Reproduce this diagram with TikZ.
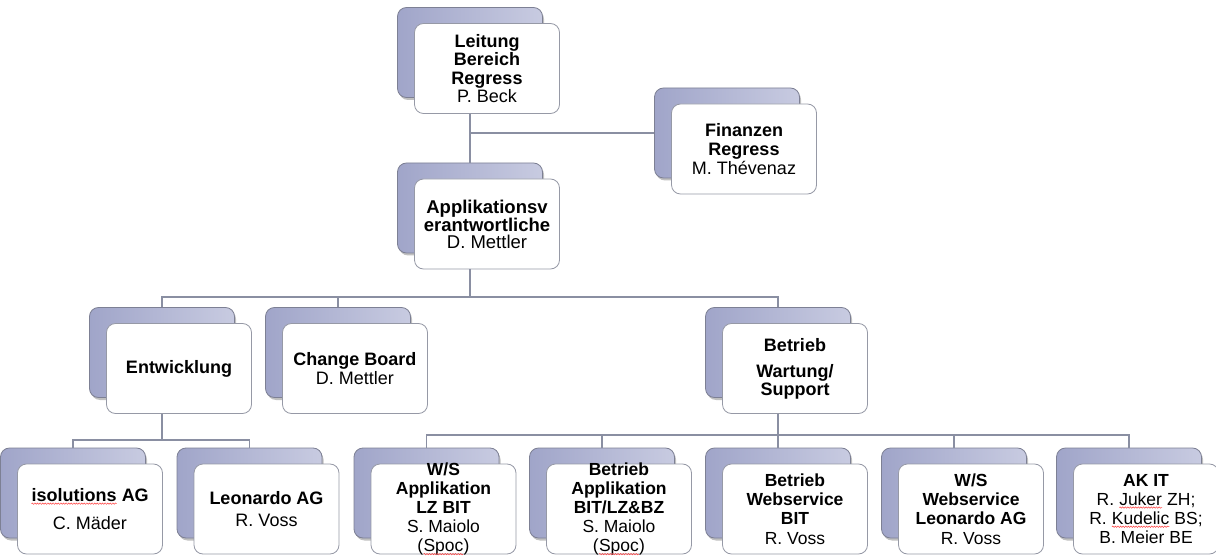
\documentclass[tikz,border=0pt]{standalone}
\usepackage{fontspec}
\setmainfont{Liberation Sans}
\usetikzlibrary{shadows,calc,decorations.pathmorphing}
\definecolor{bkA}{RGB}{160,165,201}
\definecolor{bkB}{RGB}{200,203,225}
\definecolor{bkline}{RGB}{125,128,148}
\definecolor{frline}{RGB}{150,153,166}
\definecolor{conncol}{RGB}{138,143,162}
\tikzset{
  backbox/.style={rectangle, rounded corners=9pt, minimum width=145pt, minimum height=90pt,
    draw=bkline, line width=0.8pt, left color=bkA, right color=bkB, inner sep=0pt,
    drop shadow={shadow xshift=1.5pt, shadow yshift=-2.5pt, fill=black!55, opacity=0.45}},
  frontbox/.style={rectangle, rounded corners=9pt, minimum width=145pt, minimum height=90pt,
    draw=frline, line width=0.8pt, fill=white, inner sep=0pt},
  uptext/.style={align=center, inner sep=0pt, font=\fontsize{18}{18.5}\selectfont},
  lowtext/.style={align=center, inner sep=0pt, font=\fontsize{17.5}{19.2}\selectfont},
  connector/.style={draw=conncol, line width=1.8pt},
  squiggle/.style={draw=red!75, line width=0.5pt, decorate,
    decoration={snake, amplitude=0.7pt, segment length=2.6pt}},
}
\newcommand\orgunit[5]{%
  \node[backbox] (#1b) at (#2,#3) {};
  \node[frontbox] (#1f) at ($(#1b)+(17,16)$) {};
  \node[#4] (#1t) at (#1f) {#5};
}
\newcommand\sqw[1]{\tikz[baseline=(sqw.base)]{\node[inner sep=0pt, outer sep=0pt] (sqw) {#1};
  \draw[squiggle] ([yshift=-2.2pt]sqw.base west) -- ([yshift=-2.2pt]sqw.base east);}}
\begin{document}
\begin{tikzpicture}[x=1pt,y=-1pt]
\useasboundingbox (0,0) rectangle (1216,556);
% units
\orgunit{lei}{470}{52.5}{uptext, font=\fontsize{18}{18.3}\selectfont}{\textbf{Leitung}\\\textbf{Bereich}\\\textbf{Regress}\\P. Beck}
\orgunit{fin}{727}{133}{uptext, font=\fontsize{18}{19}\selectfont}{\textbf{Finanzen}\\\textbf{Regress}\\M. Thévenaz}
\orgunit{app}{470}{208}{uptext, font=\fontsize{18.5}{16.8}\selectfont}{\textbf{Applikationsv}\\\textbf{erantwortliche}\\D. Mettler}
\orgunit{ent}{162}{352.5}{uptext}{\textbf{Entwicklung}}
\orgunit{chg}{338}{352.5}{uptext, font=\fontsize{18}{19.3}\selectfont}{\textbf{Change Board}\\D. Mettler}
\orgunit{bet}{778}{352.5}{uptext, font=\fontsize{18}{18}\selectfont}{\textbf{Betrieb}\\[8pt]\textbf{Wartung/}\\\textbf{Support}}
\orgunit{iso}{73}{493}{uptext, font=\fontsize{18}{19}\selectfont}{\textbf{\sqw{isolutions} AG}\\[9pt]C. Mäder}
\orgunit{leo}{249.5}{493}{uptext, font=\fontsize{18}{19}\selectfont}{\textbf{Leonardo AG}\\[3pt]R. Voss}
\orgunit{wsa}{426.5}{493}{lowtext}{\textbf{W/S}\\\textbf{Applikation}\\\textbf{LZ BIT}\\S. Maiolo\\(\sqw{Spoc})}
\orgunit{bap}{602}{493}{lowtext}{\textbf{Betrieb}\\\textbf{Applikation}\\\textbf{BIT/LZ\&BZ}\\S. Maiolo\\(\sqw{Spoc})}
\orgunit{bws}{778}{493}{lowtext}{\textbf{Betrieb}\\\textbf{Webservice}\\\textbf{BIT}\\R. Voss}
\orgunit{wsw}{954}{493}{lowtext}{\textbf{W/S}\\\textbf{Webservice}\\\textbf{Leonardo AG}\\R. Voss}
\orgunit{akit}{1129}{493}{lowtext}{\textbf{AK IT}\\R. \sqw{Juker} ZH;\\R. \sqw{Kudelic} BS;\\B. Meier BE}
% bus points
\coordinate (busA) at (470,297);
\coordinate (busB) at (162,440);
\coordinate (busC) at (778,435);
% connectors
\draw[connector] (leib.south |- leif.south) -- (appb.north);
\draw[connector] (leib.south |- finb.west) -- (finb.west);
\draw[connector] (appb.south |- appf.south) -- (busA);
\draw[connector] (entb.north) |- (busA) -| (betb.north);
\draw[connector] (chgb.north) -- (chgb.north |- busA);
\draw[connector] (entb.south |- entf.south) -- (busB);
\draw[connector] (isob.north) |- (busB) -| (leob.north);
\draw[connector] (betb.south |- betf.south) -- (bwsb.north);
\draw[connector] (wsab.north) |- (busC) -| (akitb.north);
\draw[connector] (bapb.north) -- (bapb.north |- busC);
\draw[connector] (wswb.north) -- (wswb.north |- busC);
\end{tikzpicture}
\end{document}
